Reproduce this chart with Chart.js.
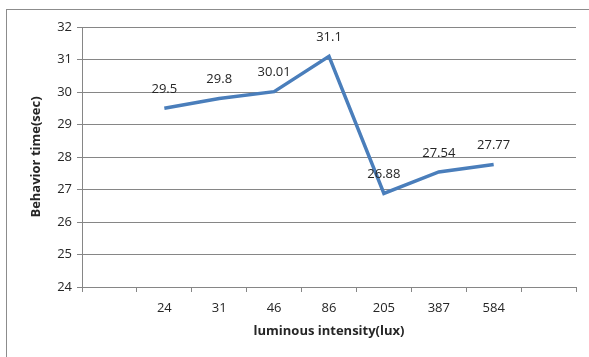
<!DOCTYPE html>
<html>
<head>
<meta charset="utf-8">
<script src="https://cdn.jsdelivr.net/npm/chart.js@4.4.0/dist/chart.umd.min.js"></script>
<style>
  html, body { margin: 0; padding: 0; background: #fff; }
  #frame { position: absolute; left: 6px; top: 9px; width: 700px; height: 500px; border: 1px solid #8c8c8c; }
  #wrap { position: absolute; left: 0; top: 0; width: 589px; height: 357px; }
</style>
</head>
<body>
<div id="frame"></div>
<div id="wrap"><canvas id="chart"></canvas></div>
<script>
  // categories incl. the empty slots Excel left at each end
  const luxLabels = ['', '24', '31', '46', '86', '205', '387', '584', ''];
  const behaviorTime = [null, 29.5, 29.8, 30.01, 31.1, 26.88, 27.54, 27.77, null];
  const pointLabels = ['', '29.5', '29.8', '30.01', '31.1', '26.88', '27.54', '27.77', ''];

  const gridGray = '#868686';
  const textColor = '#262626';
  const fontFamily = "'Open Sans', 'Liberation Sans', sans-serif";

  const valueLabels = {
    id: 'valueLabels',
    afterDatasetsDraw(chart) {
      const ctx = chart.ctx;
      const meta = chart.getDatasetMeta(0);
      ctx.save();
      ctx.font = '13px ' + fontFamily;
      ctx.fillStyle = textColor;
      ctx.textAlign = 'center';
      ctx.textBaseline = 'middle';
      meta.data.forEach((pt, i) => {
        if (behaviorTime[i] == null) return;
        ctx.fillText(pointLabels[i], pt.x, pt.y - 19);
      });
      ctx.restore();
    }
  };

  const ctx = document.getElementById('chart').getContext('2d');
  new Chart(ctx, {
    type: 'line',
    data: {
      labels: luxLabels,
      datasets: [{
        data: behaviorTime,
        borderColor: '#4a7ebb',
        borderWidth: 3.5,
        pointRadius: 0,
        tension: 0,
        spanGaps: false
      }]
    },
    options: {
      responsive: true,
      maintainAspectRatio: false,
      animation: false,
      layout: { padding: { left: 24, right: 13, top: 27, bottom: 14 } },
      plugins: {
        legend: { display: false },
        tooltip: { enabled: false }
      },
      scales: {
        x: {
          offset: true,
          grid: { offset: true, drawOnChartArea: false, color: gridGray, tickLength: 5 },
          border: { color: gridGray },
          ticks: { color: textColor, font: { family: fontFamily, size: 13 }, padding: 8, maxRotation: 0 },
          title: {
            display: true,
            text: 'luminous intensity(lux)',
            color: textColor,
            font: { family: fontFamily, size: 13, weight: 'bold' },
            padding: { top: 4, bottom: 4 }
          },
          afterFit(scale) { scale.height = 56; }
        },
        y: {
          min: 24,
          max: 32,
          ticks: { stepSize: 1, color: textColor, font: { family: fontFamily, size: 13 }, padding: 5 },
          grid: { color: gridGray, tickLength: 5 },
          border: { color: gridGray },
          title: {
            display: true,
            text: 'Behavior time(sec)',
            color: textColor,
            font: { family: fontFamily, size: 13, weight: 'bold' },
            padding: { top: 4, bottom: 4 }
          },
          afterFit(scale) { scale.width = 58; }
        }
      }
    },
    plugins: [valueLabels]
  });
</script>
</body>
</html>
